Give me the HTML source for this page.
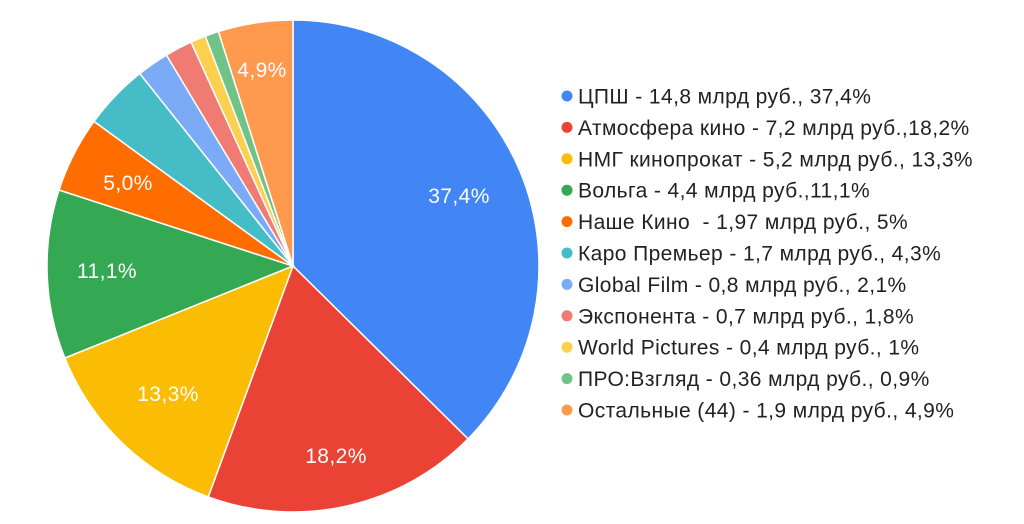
<!DOCTYPE html>
<html><head><meta charset="utf-8"><style>
html,body{margin:0;padding:0;background:#fff;width:1024px;height:524px;overflow:hidden;}
svg text{font-family:"Liberation Sans",sans-serif;}
</style></head><body>
<svg id="s" width="1024" height="524" xmlns="http://www.w3.org/2000/svg">
<g id="pie"></g>
<g font-size="21" fill="#fff" text-anchor="middle" letter-spacing="0.4">
<text x="459" y="203">37,4%</text>
<text x="336" y="463">18,2%</text>
<text x="168" y="401">13,3%</text>
<text x="107" y="278">11,1%</text>
<text x="128" y="190">5,0%</text>
<text x="262" y="77">4,9%</text>
</g>
<g id="leg" font-size="21" fill="#222" letter-spacing="0.4"></g>
</svg>
<script>
var v=[37.4,18.2,13.3,11.1,5.0,4.3,2.1,1.8,1.0,0.9,4.9];
var c=["#4285f4","#ea4335","#fbbc04","#34a853","#ff6d01","#46bdc6","#7baaf7","#f07b72","#fcd04f","#71c287","#ff994d"];
var t=["ЦПШ - 14,8 млрд руб., 37,4%","Атмосфера кино - 7,2 млрд руб.,18,2%","НМГ кинопрокат - 5,2 млрд руб., 13,3%","Вольга - 4,4 млрд руб.,11,1%","Наше Кино  - 1,97 млрд руб., 5%","Каро Премьер - 1,7 млрд руб., 4,3%","Global Film - 0,8 млрд руб., 2,1%","Экспонента - 0,7 млрд руб., 1,8%","World Pictures - 0,4 млрд руб., 1%","ПРО:Взгляд - 0,36 млрд руб., 0,9%","Остальные (44) - 1,9 млрд руб., 4,9%"];
var cx=293,cy=266,r=246,a=0,h="",l="";
for(var i=0;i<v.length;i++){
 var b=a+v[i]/100*2*Math.PI;
 var x1=cx+r*Math.sin(a),y1=cy-r*Math.cos(a),x2=cx+r*Math.sin(b),y2=cy-r*Math.cos(b);
 h+='<path d="M'+cx+' '+cy+'L'+x1+' '+y1+'A'+r+' '+r+' 0 '+((b-a)>Math.PI?1:0)+' 1 '+x2+' '+y2+'Z" fill="'+c[i]+'" stroke="#fff" stroke-width="1.5"/>';
 a=b;
 var y=96+i*31.4;
 l+='<circle cx="567" cy="'+y+'" r="5.5" fill="'+c[i]+'"/><text x="578" y="'+(y+7.5)+'" xml:space="preserve">'+t[i]+'</text>';
}
document.getElementById("pie").innerHTML=h;
document.getElementById("leg").innerHTML=l;
</script>
</body></html>
